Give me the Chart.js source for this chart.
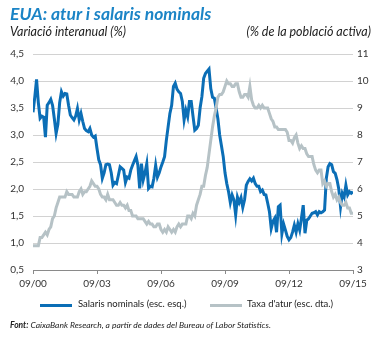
<!DOCTYPE html>
<html>
<head>
<meta charset="utf-8">
<script src="https://cdn.jsdelivr.net/npm/chart.js@4"></script>
<style>
body { margin:0; background:#fff; }
#wrap { position:relative; width:385px; height:338px; font-family:Lato, "Open Sans", sans-serif; color:#333; }
#c { position:absolute; left:0; top:0; }
.t { position:absolute; white-space:nowrap; }
#title { left:10px; top:3px; font-size:17.5px; font-weight:bold; font-style:italic; color:#1b84c6; }
#subl { left:10px; top:24px; font-size:12.5px; font-style:italic; color:#222; }
#subr { right:14px; top:24px; font-size:12.5px; font-style:italic; color:#222; }
.leg { top:298px; font-size:9.5px; color:#222; }
.sw { position:absolute; top:304px; width:32px; height:3px; }
#foot { left:10px; top:320px; font-size:8.5px; font-style:italic; color:#222; }
</style>
</head>
<body>
<div id="wrap">
<canvas id="c" width="385" height="338"></canvas>
<div class="t" id="title">EUA: atur i salaris nominals</div>
<div class="t" id="subl">Variació interanual (%)</div>
<div class="t" id="subr">(% de la població activa)</div>
<div class="sw" style="left:40px;background:#0b6eb6"></div>
<div class="t leg" style="left:78px">Salaris nominals (esc. esq.)</div>
<div class="sw" style="left:210px;background:#b6c2c6"></div>
<div class="t leg" style="left:247px">Taxa d'atur (esc. dta.)</div>
<div class="t" id="foot"><b>Font:</b> CaixaBank Research, a partir de dades del Bureau of Labor Statistics.</div>
</div>
<script>
// monthly, 09/2000 .. 09/2015
var salaris = [
  3.42, 3.7, 4.03, 3.6, 3.31, 3.35, 3.33, 2.96, 3.55, 3.6, 3.66, 3.55,
  3.3, 3.03, 3.2, 3.6, 3.8, 3.72, 3.77, 3.76, 3.55, 3.37, 3.32, 3.28,
  3.35, 3.49, 3.28, 3.4, 3.25, 3.12, 3.08, 3.06, 3.12, 3.0, 2.96, 2.98,
  2.75, 2.54, 2.45, 2.2, 2.3, 2.45, 2.46, 2.45, 2.3, 2.07, 2.12, 2.1,
  2.25, 2.41, 2.38, 2.35, 2.12, 2.22, 2.2, 2.35, 2.44, 2.52, 2.6, 2.44,
  2.01, 2.47, 2.17, 2.3, 2.47, 2.01, 2.05, 2.04, 2.2, 2.44, 2.22, 2.3,
  2.41, 2.5, 2.6, 2.9, 3.15, 3.4, 3.55, 3.9, 3.96, 3.85, 3.8, 3.77,
  3.62, 3.28, 3.46, 3.34, 3.62, 3.62, 3.35, 3.09, 3.12, 3.18, 3.5, 3.71,
  4.05, 4.14, 4.18, 4.22, 3.86, 3.7, 3.68, 3.5, 3.3, 3.0, 2.8, 2.6,
  2.3, 2.1, 1.95, 1.75, 1.89, 1.8, 1.52, 1.85, 1.75, 1.84, 1.66, 1.8,
  2.07, 2.14, 2.19, 2.15, 2.2, 2.1, 2.05, 2.05, 1.95, 1.98, 1.9, 1.89,
  1.74, 1.58, 1.27, 1.4, 1.46, 1.2, 1.67, 1.7, 1.17, 1.35, 1.24, 1.12,
  1.06, 1.1, 1.2, 1.33, 1.2, 1.36, 1.24, 1.46, 1.7, 1.18, 1.42, 1.45,
  1.5, 1.55, 1.56, 1.58, 1.52, 1.58, 1.56, 1.58, 1.61, 2.2, 2.41, 2.47,
  2.45, 2.32, 2.29, 2.17, 2.0, 1.67, 1.92, 1.85, 2.07, 1.89, 1.95, 1.92,
  1.95
];
var atur = [
  3.9, 3.9, 3.9, 3.9,
  4.2, 4.2, 4.3, 4.4, 4.3, 4.5, 4.6, 4.9, 5.0, 5.3, 5.5, 5.7,
  5.7, 5.7, 5.7, 5.9, 5.8, 5.8, 5.8, 5.7, 5.7, 5.7, 5.9, 6.0,
  5.8, 5.9, 5.9, 6.0, 6.1, 6.3, 6.2, 6.1, 6.1, 6.0, 5.8, 5.7,
  5.7, 5.6, 5.8, 5.6, 5.6, 5.6, 5.5, 5.4, 5.4, 5.5, 5.4, 5.4,
  5.3, 5.4, 5.2, 5.2, 5.0, 5.0, 5.0, 4.9, 4.9, 4.9, 4.9, 4.8,
  4.7, 4.8, 4.7, 4.7, 4.6, 4.6, 4.7, 4.7, 4.5, 4.4, 4.5, 4.4,
  4.6, 4.5, 4.4, 4.5, 4.4, 4.6, 4.7, 4.6, 4.7, 4.7, 4.7, 5.0,
  5.0, 4.9, 5.1, 5.0, 5.4, 5.6, 5.8, 6.1, 6.1, 6.5, 6.8, 7.3,
  7.8, 8.3, 8.7, 9.0, 9.4, 9.5, 9.5, 9.6, 9.8, 10.0, 9.9, 9.9,
  9.8, 9.8, 9.9, 9.9, 9.6, 9.4, 9.4, 9.5, 9.5, 9.4, 9.8, 9.3,
  9.1, 9.0, 9.0, 9.1, 9.0, 9.1, 9.0, 9.0, 9.0, 8.8, 8.6, 8.5,
  8.3, 8.3, 8.2, 8.2, 8.2, 8.2, 8.2, 8.1, 7.8, 7.8, 7.7, 7.9,
  8.0, 7.7, 7.5, 7.6, 7.5, 7.5, 7.3, 7.2, 7.2, 7.2, 6.9, 6.7,
  6.6, 6.7, 6.7, 6.2, 6.3, 6.1, 6.2, 6.2, 5.9, 5.7, 5.8, 5.6,
  5.7, 5.5, 5.4, 5.4, 5.5, 5.3, 5.3, 5.1, 5.1
];
var leftTicks = [0.5, 4.5, 0.5];   // min, max, step
var rightTicks = [3, 11, 1];
var xTickStep = 36;                 // cada 3 anys

var font = { family: 'Lato, "Open Sans", sans-serif', size: 10 };

new Chart(document.getElementById('c'), {
  type: 'line',
  data: {
    datasets: [{
      label: 'Taxa d\'atur (esc. dta.)',
      data: atur.map(function (v, i) { return { x: i, y: v }; }),
      yAxisID: 'y2',
      borderColor: '#b6c2c6',
      borderWidth: 3,
      pointRadius: 0,
      tension: 0
    }, {
      label: 'Salaris nominals (esc. esq.)',
      data: salaris.map(function (v, i) { return { x: i, y: v }; }),
      yAxisID: 'y',
      borderColor: '#0b6eb6',
      borderWidth: 3,
      pointRadius: 0,
      tension: 0
    }]
  },
  options: {
    responsive: false,
    animation: false,
    events: [],
    layout: { padding: { top: 54, left: 0, right: 0, bottom: 0 } },
    plugins: { legend: { display: false }, tooltip: { enabled: false } },
    scales: {
      x: {
        type: 'linear',
        min: 0, max: salaris.length - 1,
        afterFit: function (s) { s.height = 68; },
        ticks: {
          stepSize: xTickStep, padding: 4, color: '#333', font: font, maxRotation: 0,
          callback: function (v) {
            var y = 2000 + v / 12;
            return '09/' + String(Math.round(y) % 100).padStart(2, '0');
          }
        },
        grid: { drawOnChartArea: false, tickLength: 4, tickColor: '#8a8a8a', tickWidth: 1 },
        border: { display: true, color: '#8a8a8a', width: 1 }
      },
      y: {
        position: 'left',
        min: leftTicks[0], max: leftTicks[1],
        afterFit: function (s) { s.width = 33; },
        ticks: {
          stepSize: leftTicks[2], padding: 9, color: '#333', font: font,
          callback: function (v) { return v.toFixed(1).replace('.', ','); }
        },
        grid: { color: '#d2d2d2', lineWidth: 1, drawTicks: false },
        border: { display: false }
      },
      y2: {
        position: 'right',
        min: rightTicks[0], max: rightTicks[1],
        afterFit: function (s) { s.width = 32; },
        ticks: { stepSize: rightTicks[2], padding: 4, color: '#333', font: font },
        grid: { drawOnChartArea: false, drawTicks: false },
        border: { display: false }
      }
    }
  }
});
</script>
</body>
</html>
